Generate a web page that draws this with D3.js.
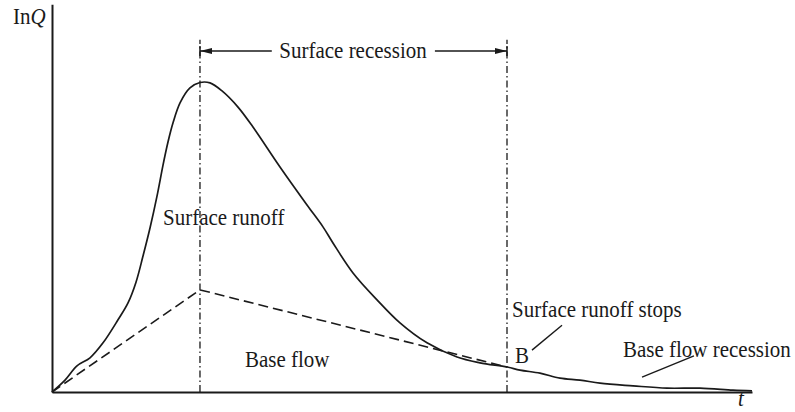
<!DOCTYPE html>
<html><head><meta charset="utf-8">
<script src="https://cdn.jsdelivr.net/npm/d3@7"></script>
<style>
html,body{margin:0;padding:0;background:#fff;}
svg{display:block;}
text{font-family:"Liberation Serif","Times New Roman",serif;fill:#1a1a1a;}
</style></head>
<body>
<svg id="chart" width="795" height="412"></svg>
<script>
// time (t) in arbitrary units 0..100, lnQ in arbitrary units 0..100
const hydroT = [0,1.86,3.57,5.43,7.29,9.43,10.86,12.0,13.0,14.0,15.0,15.86,16.57,17.29,18.29,19.71,21.14,22.57,24.29,26.57,28.71,32.57,36.43,38.71,40.14,43.0,46.43,49.71,53.57,57.86,61.14,65.0,66.86,69.71,72.57,75.43,78.29,83.0,87.86,92.57,97.29,100];
const hydroQ = [0,3.1,6.8,8.9,12.8,18.8,23.2,28.6,35.4,42.7,51.0,59.1,65.1,70.1,75.3,79.2,80.6,80.5,78.4,74.2,69.0,58.6,48.7,43.0,38.8,31.0,24.0,18.0,12.8,9.1,7.6,6.5,5.7,4.9,3.6,3.1,2.3,1.6,1.0,1.0,0.5,0.3];
const baseT = [0,21.14,65.0];
const baseQ = [0,26.6,6.5];
const markerT = [21.14,65.0];   // peak time, surface runoff stops (B)
const markerTop = 91.7;
const arrowQ = 88.8;
const axisLabels = {y:"In", yItalic:"Q", x:"t"};

const svg = d3.select("#chart");
const x = d3.scaleLinear().domain([0,100]).range([52,752]);
const y = d3.scaleLinear().domain([0,100]).range([392,8]);

const ink = "#1a1a1a";

// dash-dot verticals
markerT.forEach(t=>{
  svg.append("line").attr("x1",x(t)).attr("x2",x(t)).attr("y1",y(0)).attr("y2",y(markerTop))
    .attr("stroke",ink).attr("stroke-width",1.3).attr("stroke-dasharray","7,3,1.5,3");
});

// axes
svg.append("g").attr("transform",`translate(0,${y(0)})`)
  .call(d3.axisBottom(x).ticks(0).tickSizeOuter(0))
  .call(g=>g.select(".domain").attr("stroke",ink).attr("stroke-width",2));
svg.append("g").attr("transform",`translate(${x(0)},0)`)
  .call(d3.axisLeft(d3.scaleLinear().domain([0,101]).range([y(0),y(101)])).ticks(0).tickSizeOuter(0))
  .call(g=>g.select(".domain").attr("stroke",ink).attr("stroke-width",2));

// base flow dashed line
const baseData = baseT.map((t,i)=>[t,baseQ[i]]);
svg.append("path").datum(baseData)
  .attr("d",d3.line().x(d=>x(d[0])).y(d=>y(d[1])))
  .attr("fill","none").attr("stroke",ink).attr("stroke-width",1.6).attr("stroke-dasharray","10,5");

// hydrograph
const hydro = hydroT.map((t,i)=>[t,hydroQ[i]]);
svg.append("path").datum(hydro)
  .attr("d",d3.line().x(d=>x(d[0])).y(d=>y(d[1])).curve(d3.curveCatmullRom.alpha(0.5)))
  .attr("fill","none").attr("stroke",ink).attr("stroke-width",1.7);

// arrows
const defs = svg.append("defs");
defs.append("marker").attr("id","ah").attr("viewBox","0 0 12 6").attr("refX",12).attr("refY",3)
  .attr("markerWidth",12).attr("markerHeight",6).attr("markerUnits","userSpaceOnUse").attr("orient","auto")
  .append("path").attr("d","M0,0L12,3L0,6Z").attr("fill",ink);
svg.append("line").attr("x1",x(31.4)).attr("x2",x(markerT[0])).attr("y1",y(arrowQ)).attr("y2",y(arrowQ))
  .attr("stroke",ink).attr("stroke-width",1.5).attr("marker-end","url(#ah)");
svg.append("line").attr("x1",x(54.7)).attr("x2",x(markerT[1])).attr("y1",y(arrowQ)).attr("y2",y(arrowQ))
  .attr("stroke",ink).attr("stroke-width",1.5).attr("marker-end","url(#ah)");
markerT.forEach(t=>{
  svg.append("line").attr("x1",x(t)).attr("x2",x(t)).attr("y1",y(arrowQ)-5).attr("y2",y(arrowQ)+5)
    .attr("stroke",ink).attr("stroke-width",1.5);
});

// labels (slightly tall serif, as in the reference)
const fs = 21, vs = 1.12;
function place(px,py){ return `translate(${px},${py}) scale(1,${vs})`; }
function lab(txt,t,q,anchor){
  return svg.append("text").attr("transform",place(x(t),y(q))).attr("font-size",fs)
    .attr("text-anchor",anchor||"start").text(txt);
}
lab("Surface recession",43.0,87.0,"middle");
lab("Surface runoff",15.86,43.5);
lab("Base flow",27.57,6.5);
lab("Surface runoff stops",65.71,19.5);
lab("B",66.14,7.6);
lab("Base flow recession",81.57,9.1);

const yl = svg.append("text").attr("transform",place(13,24)).attr("font-size",fs);
yl.append("tspan").text(axisLabels.y);
yl.append("tspan").attr("font-style","italic").text(axisLabels.yItalic);
svg.append("text").attr("transform",place(x(98.0),406)).attr("font-size",fs).attr("font-style","italic").text(axisLabels.x);

// leader lines
svg.append("line").attr("x1",x(72.86)).attr("y1",y(17.4)).attr("x2",x(68.57)).attr("y2",y(10.9))
  .attr("stroke",ink).attr("stroke-width",1.4);
svg.append("line").attr("x1",x(91.71)).attr("y1",y(9.4)).attr("x2",x(84.29)).attr("y2",y(3.9))
  .attr("stroke",ink).attr("stroke-width",1.4);
</script>
</body></html>
